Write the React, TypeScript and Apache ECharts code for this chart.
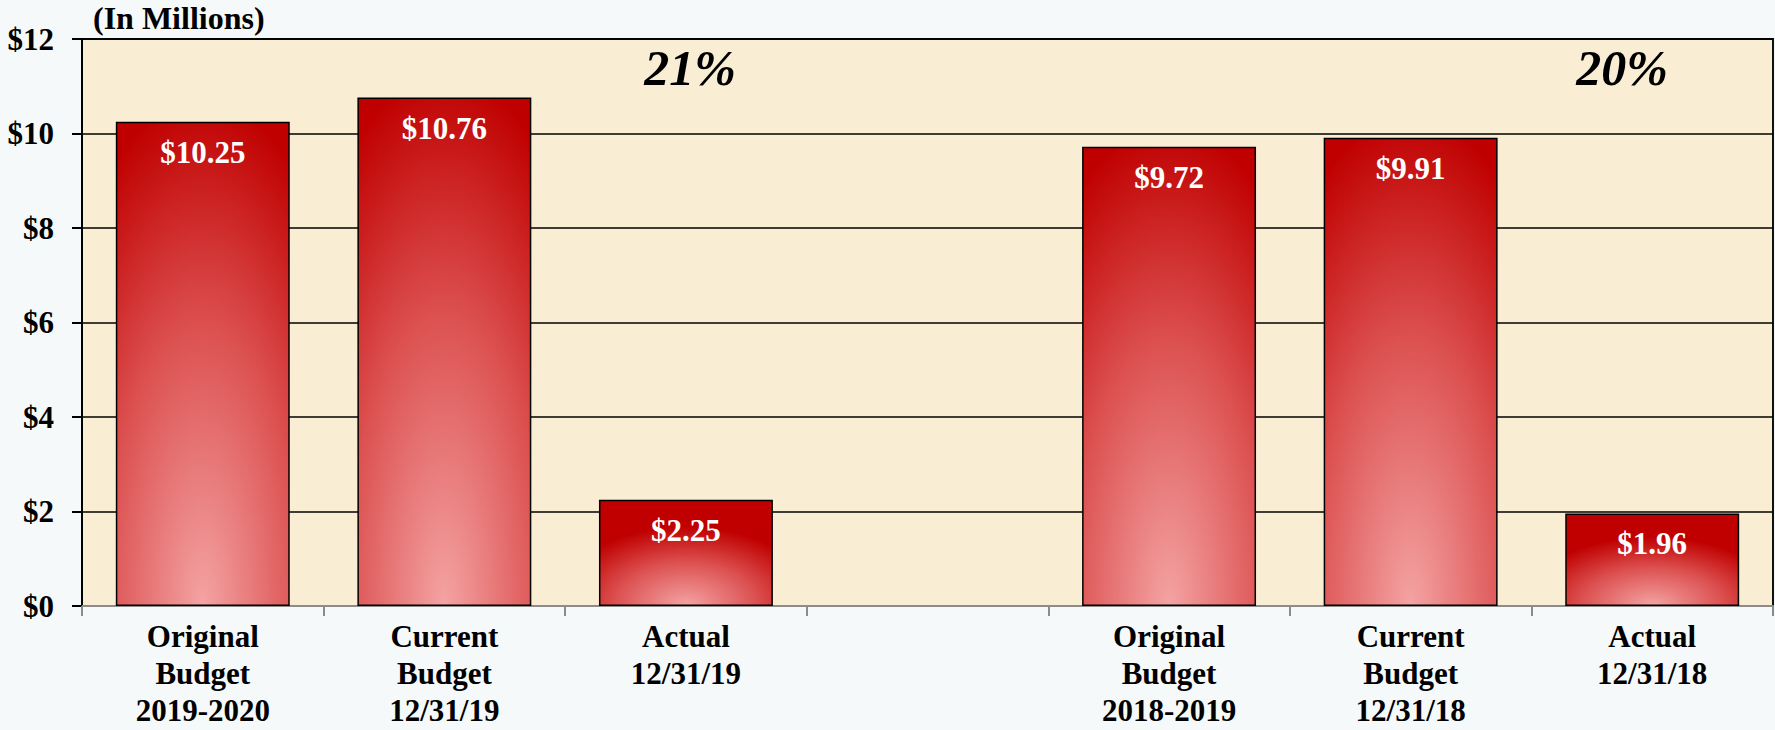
import React, { useEffect, useRef } from "react";
import * as echarts from "echarts";

const categories = [
  "Original\nBudget\n2019-2020",
  "Current\nBudget\n12/31/19",
  "Actual\n12/31/19",
  "",
  "Original\nBudget\n2018-2019",
  "Current\nBudget\n12/31/18",
  "Actual\n12/31/18",
];
const values: (number | null)[] = [10.25, 10.76, 2.25, null, 9.72, 9.91, 1.96];
const yTicks = [0, 2, 4, 6, 8, 10, 12];
const percentLabels = ["21%", "20%"];
const unitLabel = "(In Millions)";

const FONT = '"Liberation Serif", "Times New Roman", serif';

function barGradient(v: number) {
  const tall = v > 5;
  return {
    type: "radial",
    x: 0.5,
    y: 1,
    r: tall ? 1.05 : 0.75,
    colorStops: [
      { offset: 0, color: "#f4a3a3" },
      { offset: 0.55, color: "#dc5050" },
      { offset: 1, color: "#c00000" },
    ],
  };
}

export default function App() {
  const ref = useRef<HTMLDivElement>(null);
  useEffect(() => {
    document.body.style.margin = "0";
    document.body.style.background = "#f5f9fa";
    const chart = echarts.init(ref.current!, null, { renderer: "svg" });
    const data = values.map((v) =>
      v == null ? "-" : { value: v, itemStyle: { color: barGradient(v) } }
    );
    chart.setOption({
      animation: false,
      backgroundColor: "#f5f9fa",
      grid: {
        left: 82,
        right: 2,
        top: 39,
        bottom: 124,
        show: true,
        backgroundColor: "#f9edd4",
        borderColor: "#111",
        borderWidth: 2,
      },
      xAxis: {
        type: "category",
        data: categories,
        axisLine: { show: true, lineStyle: { color: "#8c8c8c", width: 2 } },
        axisTick: { show: true, length: 10, lineStyle: { color: "#8c8c8c", width: 2 } },
        axisLabel: {
          interval: 0,
          margin: 12,
          color: "#000",
          fontFamily: FONT,
          fontWeight: "bold",
          fontSize: 31,
          lineHeight: 37,
        },
      },
      yAxis: {
        type: "value",
        min: yTicks[0],
        max: yTicks[yTicks.length - 1],
        interval: 2,
        axisLine: { show: true, lineStyle: { color: "#000", width: 2 } },
        axisTick: { show: true, length: 10, lineStyle: { color: "#000", width: 2 } },
        splitLine: { show: true, lineStyle: { color: "#000", width: 1.5 } },
        axisLabel: {
          margin: 28,
          color: "#000",
          fontFamily: FONT,
          fontWeight: "bold",
          fontSize: 31,
          formatter: (v: number) => "$" + v,
        },
      },
      series: [
        {
          type: "bar",
          data,
          barWidth: "72%",
          itemStyle: { borderColor: "#000", borderWidth: 1.5 },
          label: {
            show: true,
            position: "insideTop",
            distance: 15,
            color: "#fff",
            fontFamily: FONT,
            fontWeight: "bold",
            fontSize: 31,
            formatter: (p: any) => "$" + Number(p.value).toFixed(2),
          },
        },
      ],
      graphic: [
        {
          type: "text",
          left: 93,
          top: 2,
          style: {
            text: unitLabel,
            fill: "#000",
            font: `bold 32px ${FONT}`,
          },
        },
        {
          type: "text",
          x: 690,
          y: 68,
          style: {
            text: percentLabels[0],
            fill: "#000",
            font: `italic bold 50px ${FONT}`,
            textAlign: "center",
            textVerticalAlign: "middle",
          },
        },
        {
          type: "text",
          x: 1622,
          y: 68,
          style: {
            text: percentLabels[1],
            fill: "#000",
            font: `italic bold 50px ${FONT}`,
            textAlign: "center",
            textVerticalAlign: "middle",
          },
        },
      ],
    });
    return () => chart.dispose();
  }, []);
  return (
    <div
      ref={ref}
      style={{ position: "absolute", left: 0, top: 0, width: 1775, height: 730 }}
    />
  );
}
